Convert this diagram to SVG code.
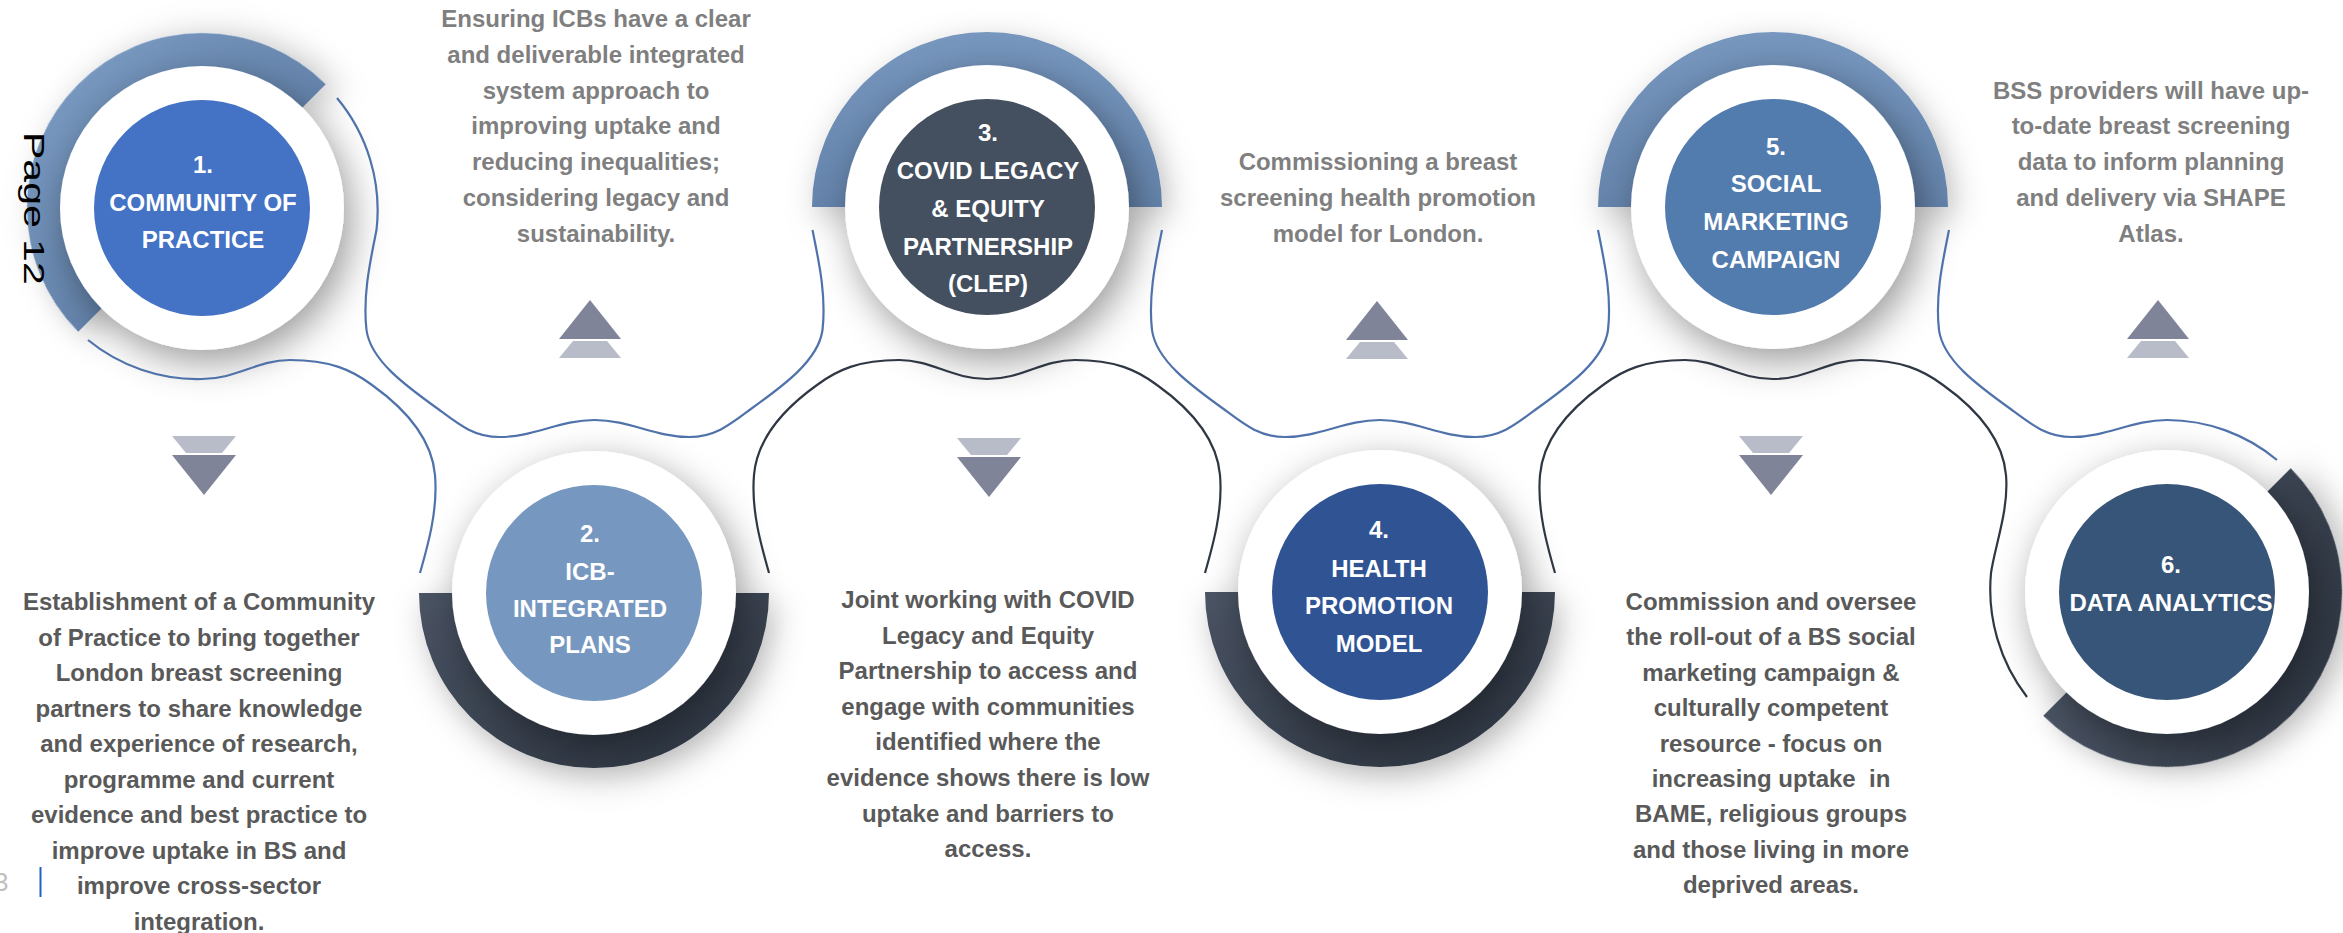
<svg xmlns="http://www.w3.org/2000/svg" width="2343" height="933" viewBox="0 0 2343 933">
<defs>
<linearGradient id="gTop" x1="0" y1="0" x2="0" y2="1"><stop offset="0" stop-color="#7797BF"/><stop offset="1" stop-color="#6584AC"/></linearGradient>
<linearGradient id="gBot" x1="0" y1="0" x2="1" y2="1"><stop offset="0" stop-color="#4A5464"/><stop offset="1" stop-color="#2C333F"/></linearGradient>
<filter id="sh" x="-50%" y="-50%" width="200%" height="200%"><feDropShadow dx="7" dy="12" stdDeviation="19" flood-color="#000" flood-opacity="0.4"/></filter>
<filter id="shr" x="-50%" y="-50%" width="200%" height="200%"><feDropShadow dx="6" dy="10" stdDeviation="16" flood-color="#000" flood-opacity="0.25"/></filter>
<style>
.lbl{font-family:"Liberation Sans",Arial,sans-serif;font-weight:bold;font-size:24px;fill:#fff;text-anchor:middle}
.dt{font-family:"Liberation Sans",Arial,sans-serif;font-weight:bold;font-size:24px;fill:#7F7F7F;text-anchor:middle}
.db{font-family:"Liberation Sans",Arial,sans-serif;font-weight:bold;font-size:24px;fill:#595959;text-anchor:middle}
.wc{fill:#fff;filter:url(#sh)}
.rt{fill:url(#gTop);filter:url(#shr)}
.rb{fill:url(#gBot);filter:url(#shr)}
.ad{fill:#7F8499}
.al{fill:#B8BCC8}
.lb{fill:none;stroke:#4F72AA;stroke-width:2.2}
.lk{fill:none;stroke:#2F3744;stroke-width:2.2}
</style>
</defs>
<rect width="2343" height="933" fill="#fff"/>

<g id="node-1">
<path class="rt" transform="rotate(-45 202 208)" d="M27,208 A175,175 0 0 1 377,208 L342,208 A140,140 0 0 0 62,208 Z"/>
<circle class="wc" cx="202" cy="208" r="142"/>
<circle cx="202" cy="208" r="108" fill="#4472C4"/>
<text class="lbl" x="203" y="173">1.</text>
<text class="lbl" x="203" y="211">COMMUNITY OF</text>
<text class="lbl" x="203" y="248">PRACTICE</text>
</g>

<g id="node-2">
<path class="rb" d="M769,593 A175,175 0 0 1 419,593 L454,593 A140,140 0 0 0 734,593 Z"/>
<circle class="wc" cx="594" cy="593" r="142"/>
<circle cx="594" cy="593" r="108" fill="#7697BF"/>
<text class="lbl" x="590" y="542">2.</text>
<text class="lbl" x="590" y="580">ICB-</text>
<text class="lbl" x="590" y="617">INTEGRATED</text>
<text class="lbl" x="590" y="653">PLANS</text>
</g>

<g id="node-3">
<path class="rt" d="M812,207 A175,175 0 0 1 1162,207 L1127,207 A140,140 0 0 0 847,207 Z"/>
<circle class="wc" cx="987" cy="207" r="142"/>
<circle cx="987" cy="207" r="108" fill="#44505F"/>
<text class="lbl" x="988" y="141">3.</text>
<text class="lbl" x="988" y="179">COVID LEGACY</text>
<text class="lbl" x="988" y="217">&amp; EQUITY</text>
<text class="lbl" x="988" y="255">PARTNERSHIP</text>
<text class="lbl" x="988" y="292">(CLEP)</text>
</g>

<g id="node-4">
<path class="rb" d="M1555,592 A175,175 0 0 1 1205,592 L1240,592 A140,140 0 0 0 1520,592 Z"/>
<circle class="wc" cx="1380" cy="592" r="142"/>
<circle cx="1380" cy="592" r="108" fill="#2F5393"/>
<text class="lbl" x="1379" y="538">4.</text>
<text class="lbl" x="1379" y="577">HEALTH</text>
<text class="lbl" x="1379" y="614">PROMOTION</text>
<text class="lbl" x="1379" y="652">MODEL</text>
</g>

<g id="node-5">
<path class="rt" d="M1598,207 A175,175 0 0 1 1948,207 L1913,207 A140,140 0 0 0 1633,207 Z"/>
<circle class="wc" cx="1773" cy="207" r="142"/>
<circle cx="1773" cy="207" r="108" fill="#527BAE"/>
<text class="lbl" x="1776" y="155">5.</text>
<text class="lbl" x="1776" y="192">SOCIAL</text>
<text class="lbl" x="1776" y="230">MARKETING</text>
<text class="lbl" x="1776" y="268">CAMPAIGN</text>
</g>

<g id="node-6">
<path class="rb" transform="rotate(-45 2167 592)" d="M2342,592 A175,175 0 0 1 1992,592 L2027,592 A140,140 0 0 0 2307,592 Z"/>
<circle class="wc" cx="2167" cy="592" r="142"/>
<circle cx="2167" cy="592" r="108" fill="#375579"/>
<text class="lbl" x="2171" y="573">6.</text>
<text class="lbl" x="2171" y="611">DATA ANALYTICS</text>
</g>

<g id="connectors">
<path class="lb" d="M88,340 A173,173 0 0 0 202,379 C237,379 257,360 290,360 C330,360 352,370 372,385 C407,410 432,440 435,475 C438,510 428,545 420,573"/>
<path class="lb" d="M337,98 A175,175 0 0 1 376.5,230 C370.5,260 362.5,295 366.5,330 C370.5,360 404.5,385 439.5,410 C459.5,425 474.5,437 499.5,437 C534.5,437 559.5,420 594.5,420 C629.5,420 654.5,437 689.5,437 C714.5,437 729.5,425 749.5,410 C784.5,385 818.5,360 822.5,330 C826.5,295 818.5,260 812.5,230"/>
<path class="lb" d="M1162,230 C1156,260 1148,295 1152,330 C1156,360 1190,385 1225,410 C1245,425 1260,437 1285,437 C1320,437 1345,420 1380,420 C1415,420 1440,437 1475,437 C1500,437 1515,425 1535,410 C1570,385 1604,360 1608,330 C1612,295 1604,260 1598,230"/>
<path class="lb" d="M1949,230 C1943,260 1935,295 1939,330 C1943,360 1977,385 2012,410 C2032,425 2047,437 2072,437 C2107,437 2132,420 2167,420 A172,172 0 0 1 2277,460"/>
<path class="lk" d="M769,573 C761,545 751,510 754,475 C757,440 782,410 817,385 C837,370 859,360 899,360 C932,360 952,379 987,379 C1022,379 1042,360 1075,360 C1115,360 1137,370 1157,385 C1192,410 1217,440 1220,475 C1223,510 1213,545 1205,573"/>
<path class="lk" d="M1555,573 C1547,545 1537,510 1540,475 C1543,440 1568,410 1603,385 C1623,370 1645,360 1685,360 C1718,360 1738,379 1773,379 C1808,379 1828,360 1861,360 C1901,360 1923,370 1943,385 C1978,410 2003,440 2006,475 C2009,510 1995,545 1991,573 A176,176 0 0 0 2027,697"/>
</g>

<g id="arrows">
<polygon class="ad" points="559,339 621,339 590,300"/><polygon class="al" points="573,341 607,341 621,358 559,358"/>
<polygon class="ad" points="1346,340 1408,340 1377,301"/><polygon class="al" points="1360,342 1394,342 1408,359 1346,359"/>
<polygon class="ad" points="2127,339 2189,339 2158,300"/><polygon class="al" points="2141,341 2175,341 2189,358 2127,358"/>
<polygon class="al" points="172,436 236,436 222,453 186,453"/><polygon class="ad" points="172,455 236,455 204,495"/>
<polygon class="al" points="957,438 1021,438 1007,455 971,455"/><polygon class="ad" points="957,457 1021,457 989,497"/>
<polygon class="al" points="1739,436 1803,436 1789,453 1753,453"/><polygon class="ad" points="1739,455 1803,455 1771,495"/>
</g>

<g id="text-icb">
<text class="dt" x="596" y="27">Ensuring ICBs have a clear</text>
<text class="dt" x="596" y="63">and deliverable integrated</text>
<text class="dt" x="596" y="99">system approach to</text>
<text class="dt" x="596" y="134">improving uptake and</text>
<text class="dt" x="596" y="170">reducing inequalities;</text>
<text class="dt" x="596" y="206">considering legacy and</text>
<text class="dt" x="596" y="242">sustainability.</text>
</g>
<g id="text-health">
<text class="dt" x="1378" y="170">Commissioning a breast</text>
<text class="dt" x="1378" y="206">screening health promotion</text>
<text class="dt" x="1378" y="242">model for London.</text>
</g>
<g id="text-data">
<text class="dt" x="2151" y="99">BSS providers will have up-</text>
<text class="dt" x="2151" y="134">to-date breast screening</text>
<text class="dt" x="2151" y="170">data to inform planning</text>
<text class="dt" x="2151" y="206">and delivery via SHAPE</text>
<text class="dt" x="2151" y="242">Atlas.</text>
</g>
<g id="text-community">
<text class="db" x="199" y="610">Establishment of a Community</text>
<text class="db" x="199" y="646">of Practice to bring together</text>
<text class="db" x="199" y="681">London breast screening</text>
<text class="db" x="199" y="717">partners to share knowledge</text>
<text class="db" x="199" y="752">and experience of research,</text>
<text class="db" x="199" y="788">programme and current</text>
<text class="db" x="199" y="823">evidence and best practice to</text>
<text class="db" x="199" y="859">improve uptake in BS and</text>
<text class="db" x="199" y="894">improve cross-sector</text>
<text class="db" x="199" y="930">integration.</text>
</g>
<g id="text-clep">
<text class="db" x="988" y="608">Joint working with COVID</text>
<text class="db" x="988" y="644">Legacy and Equity</text>
<text class="db" x="988" y="679">Partnership to access and</text>
<text class="db" x="988" y="715">engage with communities</text>
<text class="db" x="988" y="750">identified where the</text>
<text class="db" x="988" y="786">evidence shows there is low</text>
<text class="db" x="988" y="822">uptake and barriers to</text>
<text class="db" x="988" y="857">access.</text>
</g>
<g id="text-social">
<text class="db" x="1771" y="610">Commission and oversee</text>
<text class="db" x="1771" y="645">the roll-out of a BS social</text>
<text class="db" x="1771" y="681">marketing campaign &amp;</text>
<text class="db" x="1771" y="716">culturally competent</text>
<text class="db" x="1771" y="752">resource - focus on</text>
<text class="db" x="1771" y="787" xml:space="preserve">increasing uptake  in</text>
<text class="db" x="1771" y="822">BAME, religious groups</text>
<text class="db" x="1771" y="858">and those living in more</text>
<text class="db" x="1771" y="893">deprived areas.</text>
</g>

<g id="page-marks">
<text transform="translate(24,132) scale(0.7,1) rotate(90)" font-family="'Liberation Sans',Arial,sans-serif" font-size="41" fill="#000">Page 12</text>
<text x="-6" y="891" font-family="'Liberation Sans',Arial,sans-serif" font-size="26" fill="#BFBFBF">3</text>
<line x1="40.5" y1="867" x2="40.5" y2="897" stroke="#1F62C4" stroke-width="2"/>
</g>
</svg>
